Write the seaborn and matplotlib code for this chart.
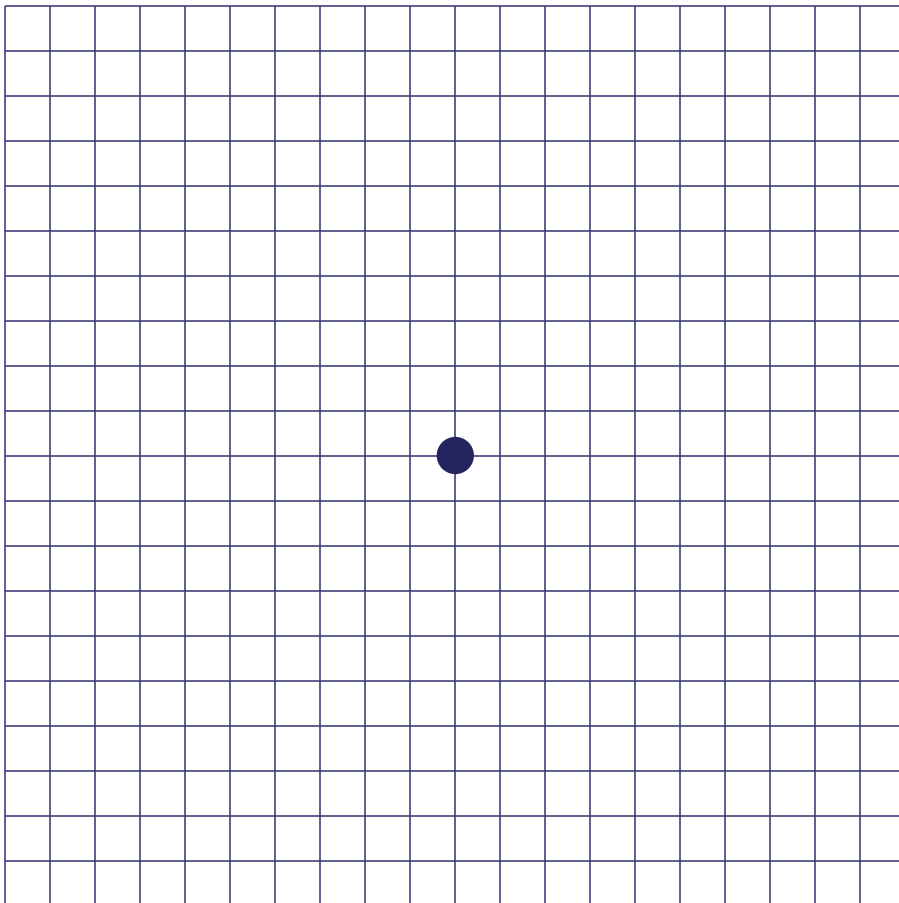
import numpy as np
import pandas as pd
import seaborn as sns
import matplotlib.pyplot as plt

# grid line positions (in cell units) and the fixation dot
grid_x = list(range(20))
grid_y = list(range(20))
dot_x = [10]
dot_y = [10]

sns.set_theme(style='white')

fig = plt.figure(figsize=(8.99, 9.04), dpi=100)
ax = fig.add_axes([0, 0, 1, 1])

line_color = '#3b3a78'
# grid starts at the first line (top/left) and runs off the right/bottom edge
ax.vlines(grid_x, 0, 25, color=line_color, lw=1.15, zorder=1)
ax.hlines(grid_y, 0, 25, color=line_color, lw=1.15, zorder=1)

dots = pd.DataFrame({'x': dot_x, 'y': dot_y})
sns.scatterplot(data=dots, x='x', y='y', ax=ax, s=720, color='#25235f',
                edgecolor='none', zorder=3, legend=False)

ax.set_xlim(-5.3 / 45, 893.7 / 45)
ax.set_ylim(897.5 / 45, -6.5 / 45)
ax.axis('off')

fig.savefig('out.png', dpi=100)
